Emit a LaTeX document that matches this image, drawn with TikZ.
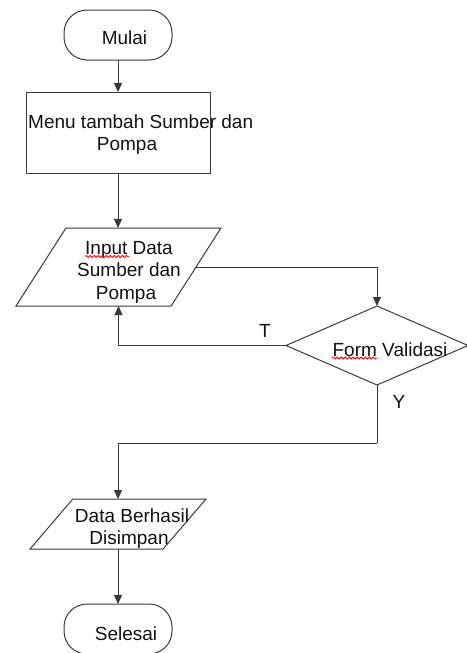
\documentclass[tikz,border=0pt]{standalone}
\usepackage{fontspec}
\setmainfont{Liberation Sans}
\usetikzlibrary{shapes.geometric,arrows.meta,decorations.pathmorphing}
\definecolor{lineclr}{HTML}{3A3A3A}
\definecolor{txtclr}{HTML}{111111}
\begin{document}
\begin{tikzpicture}[x=1pt,y=-1pt,
  shapeline/.style={draw=lineclr, line width=1pt, inner sep=0pt, outer sep=0pt},
  arr/.style={draw=lineclr, line width=1pt, -{Triangle[length=9pt,width=8pt]}},
  plainline/.style={draw=lineclr, line width=1pt},
  term/.style={shapeline, rectangle, rounded corners=23pt, minimum width=108pt, minimum height=50pt},
  procbox/.style={shapeline, rectangle, minimum width=184pt, minimum height=81pt},
  iobox/.style={shapeline, inner sep=2pt, trapezium, trapezium stretches=true, trapezium left angle=64.6, trapezium right angle=115.4},
  decbox/.style={shapeline, diamond, minimum width=182pt, minimum height=79pt},
  lbl/.style={text=txtclr, inner sep=0pt, anchor=base, font=\fontsize{19}{22.5}\selectfont},
  squig/.style={draw=red, line width=0.8pt, decorate, decoration={snake, amplitude=1pt, segment length=4pt}}
]
\useasboundingbox (0,0) rectangle (466,653);

% shapes
\node[term] (start) at (118,35) {};
\node[procbox] (menu) at (118,132.5) {};
\node[iobox, minimum width=205pt, minimum height=78pt] (input) at (118.5,267) {};
\node[decbox] (dec) at (377,345.5) {};
\node[iobox, minimum width=176pt, minimum height=50pt] (data) at (118,524) {};
\node[term] (end) at (118,629) {};

% labels
\node[lbl] (tstart) at (124.5,44) {Mulai};
\node[lbl, anchor=base west] (tmenu1) at (28,128) {Menu tambah Sumber dan};
\node[lbl] (tmenu2) at (127,150.5) {Pompa};
\node[lbl] (tin1) at (129,254) {Input Data};
\node[lbl] (tin2) at (129,276.5) {Sumber dan};
\node[lbl] (tin3) at (126,299) {Pompa};
\node[lbl] (tdec) at (390,356) {Form Validasi};
\node[lbl] (tT) at (265,337) {T};
\node[lbl] (tY) at (399,408) {Y};
\node[lbl] (tdata1) at (132,522) {Data Berhasil};
\node[lbl] (tdata2) at (129,544.5) {Disimpan};
\node[lbl] (tend) at (126,640) {Selesai};

% spell-check underlines
\coordinate (sqa1) at (85,256.5);
\coordinate (sqa2) at (129,256.5);
\coordinate (sqb1) at (332,358);
\coordinate (sqb2) at (377,358);
\draw[squig] (sqa1) -- (sqa2);
\draw[squig] (sqb1) -- (sqb2);

% connectors
\coordinate (ybend) at (377,443);
\draw[arr] (start.south) -- (menu.north);
\draw[arr] (menu.south) -- (menu.south |- input.north);
\draw[arr] (input.east) -| (dec.north);
\draw[arr] (dec.west) -| (input.south);
\draw[plainline] (dec.south) -- (ybend);
\draw[arr] (ybend) -| (data.north);
\draw[arr] (data.south) -- (end.north);
\end{tikzpicture}
\end{document}
